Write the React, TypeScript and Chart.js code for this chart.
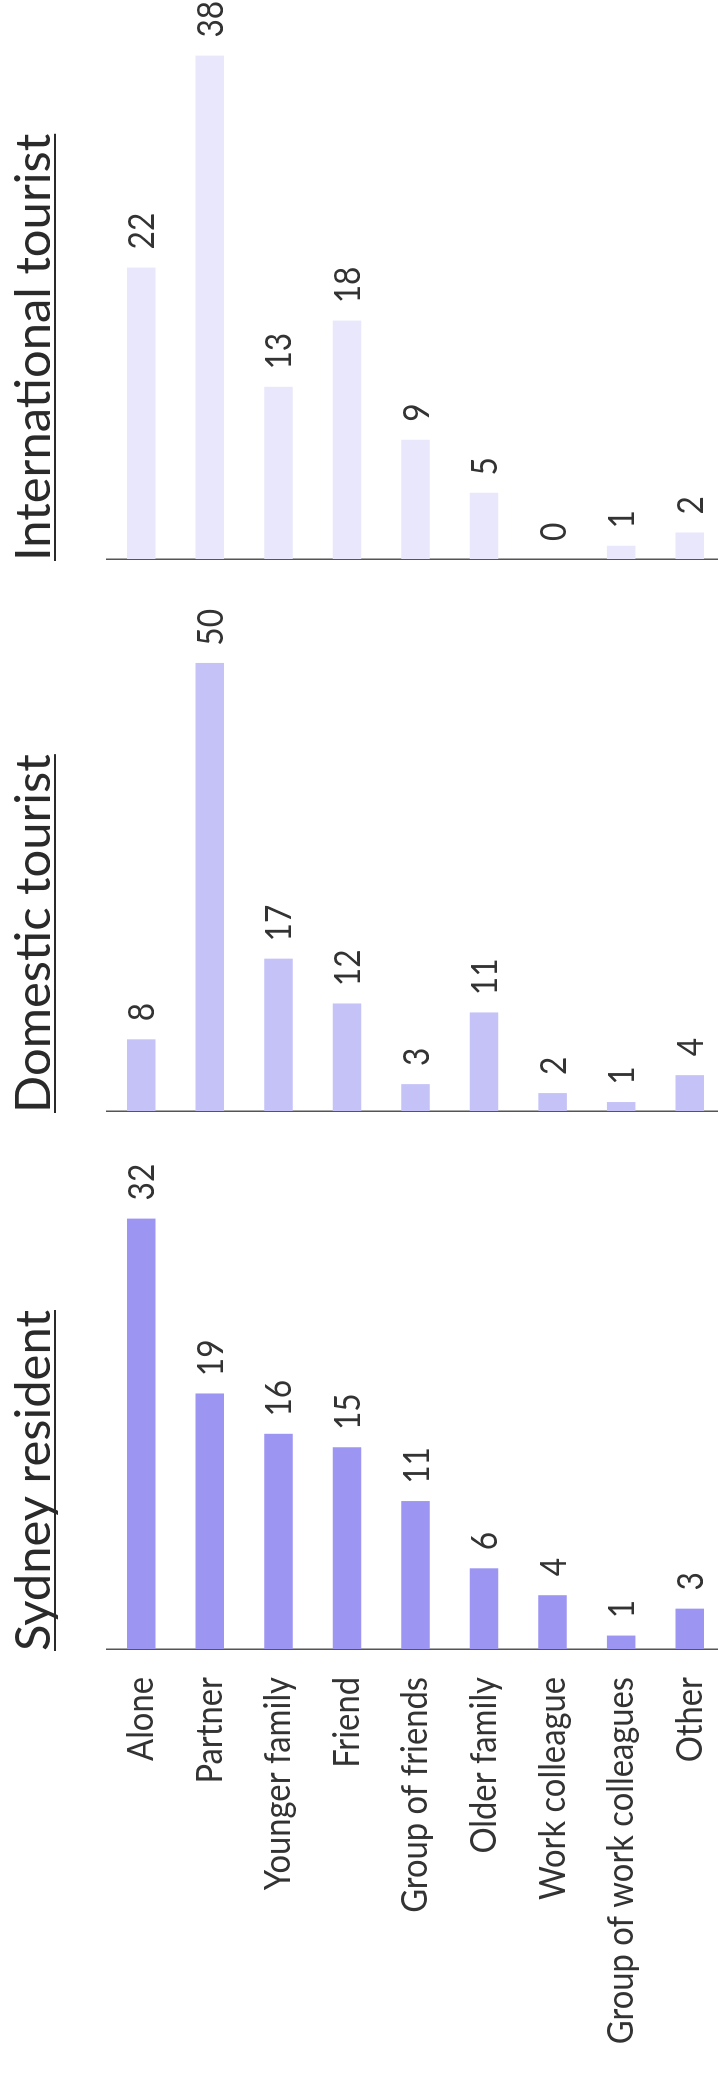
import React, { useEffect, useRef } from "react";
import { Chart, registerables } from "chart.js";

Chart.register(...registerables);

// ---- data ----
const categories = [
  "Alone",
  "Partner",
  "Younger family",
  "Friend",
  "Group of friends",
  "Older family",
  "Work colleague",
  "Group of work colleagues",
  "Other",
];
const panelTitles = ["Sydney resident", "Domestic tourist", "International tourist"];
const sydneyValues = [32, 19, 16, 15, 11, 6, 4, 1, 3];
const domesticValues = [8, 50, 17, 12, 3, 11, 2, 1, 4];
const internationalValues = [22, 38, 13, 18, 9, 5, 0, 1, 2];
const axisMaxima = [40, 61.6, 42.2];

// ---- layout / style (drawn unrotated, then the whole sheet is turned -90deg) ----
const SHEET_W = 2090;
const SHEET_H = 724;
const PLOT_TOP = 107;
const axisPositions = [441, 979, 1531];
const panelRights = [979, 1531, 2090];
const barColors = ["#9c96f2", "#c5c2f8", "#e9e7fb"];
const FONT = "Lato, 'Open Sans', sans-serif";
const TEXT_COLOR = "#333333";

const decoPlugin = {
  id: "deco",
  afterDatasetsDraw(chart: any, _args: any, opts: any) {
    const ctx = chart.ctx;
    ctx.save();
    // category labels (first panel only), placed by the category scale
    if (opts.showLabels) {
      const yScale = chart.scales.y;
      ctx.font = `${opts.labelSize}px ${FONT}`;
      ctx.fillStyle = TEXT_COLOR;
      ctx.textAlign = "right";
      ctx.textBaseline = "middle";
      const labels = chart.data.labels as string[];
      labels.forEach((lab: string, i: number) => {
        const y = yScale.getPixelForTick(i);
        ctx.save();
        ctx.translate(opts.axisX - opts.labelPadding, y);
        ctx.scale(opts.labelSqueeze, 1);
        ctx.fillText(lab, 0, 0);
        ctx.restore();
      });
    }
    // value labels
    ctx.font = `${opts.valueSize}px ${FONT}`;
    ctx.fillStyle = TEXT_COLOR;
    ctx.textAlign = "left";
    ctx.textBaseline = "alphabetic";
    const meta = chart.getDatasetMeta(0);
    const data = chart.data.datasets[0].data;
    meta.data.forEach((el: any, i: number) => {
      const txt = String(data[i]);
      const m = ctx.measureText(txt);
      const asc = m.actualBoundingBoxAscent;
      const desc = m.actualBoundingBoxDescent;
      const startX = el.x + opts.valueGap;
      const y = el.y + (asc - desc) / 2;
      ctx.save();
      ctx.translate(startX, y);
      ctx.scale(opts.valueSqueeze, 1);
      ctx.fillText(txt, m.actualBoundingBoxLeft, 0);
      ctx.restore();
    });
    // panel title, underlined
    ctx.font = `${opts.titleSize}px ${FONT}`;
    ctx.fillStyle = "#2a2a2a";
    const tx = opts.axisX + opts.titleShift;
    const tm = ctx.measureText(opts.title);
    ctx.save();
    ctx.translate(tx, opts.titleBaseline);
    ctx.scale(opts.titleSqueeze, 1);
    ctx.fillText(opts.title, 0, 0);
    ctx.restore();
    ctx.fillRect(tx, opts.underlineY, tm.width * opts.titleSqueeze, 2);
    ctx.restore();
  },
};

const seriesList = [sydneyValues, domesticValues, internationalValues];

export default function App() {
  const r0 = useRef<HTMLCanvasElement>(null);
  const r1 = useRef<HTMLCanvasElement>(null);
  const r2 = useRef<HTMLCanvasElement>(null);
  const refs = [r0, r1, r2];

  useEffect(() => {
    const charts = seriesList.map((values, i) => {
      const axisX = axisPositions[i];
      return new Chart(refs[i].current as HTMLCanvasElement, {
        type: "bar",
        data: {
          labels: categories,
          datasets: [
            {
              data: values,
              backgroundColor: barColors[i],
              borderWidth: 0,
              barPercentage: 0.416,
              categoryPercentage: 1,
            },
          ],
        },
        options: {
          indexAxis: "y",
          responsive: false,
          animation: false,
          devicePixelRatio: 1,
          layout: {
            padding: { top: PLOT_TOP, bottom: 0, left: 0, right: SHEET_W - panelRights[i] },
          },
          scales: {
            x: { type: "linear", min: 0, max: axisMaxima[i], display: false },
            y: {
              type: "category",
              position: "left",
              afterFit: (scale: any) => {
                scale.width = axisX;
              },
              grid: { display: false, drawTicks: false },
              border: { display: true, color: "#555555", width: 1.5 },
              ticks: { display: false, autoSkip: false },
            },
          },
          plugins: {
            legend: { display: false },
            tooltip: { enabled: false },
            deco: {
              title: panelTitles[i],
              axisX,
              showLabels: i === 0,
              labelSize: 37,
              labelSqueeze: 0.885,
              labelPadding: 28,
              titleShift: -2,
              titleBaseline: 50,
              underlineY: 54,
              titleSize: 48,
              titleSqueeze: 1.02,
              valueSize: 36,
              valueSqueeze: 0.88,
              valueGap: 19,
            },
          } as any,
        },
        plugins: [decoPlugin],
      } as any);
    });
    return () => charts.forEach((c) => c.destroy());
  }, []);

  return (
    <div
      style={{
        position: "absolute",
        left: 0,
        top: 0,
        width: 718,
        height: 2090,
        overflow: "hidden",
        background: "#ffffff",
      }}
    >
      <div
        style={{
          position: "absolute",
          left: 0,
          top: 0,
          width: SHEET_W,
          height: SHEET_H,
          transformOrigin: "0 0",
          transform: `translate(0px, ${SHEET_W}px) rotate(-90deg)`,
        }}
      >
        {refs.map((r, i) => (
          <canvas
            key={i}
            ref={r}
            width={SHEET_W}
            height={SHEET_H}
            style={{ position: "absolute", left: 0, top: 0 }}
          />
        ))}
      </div>
    </div>
  );
}
